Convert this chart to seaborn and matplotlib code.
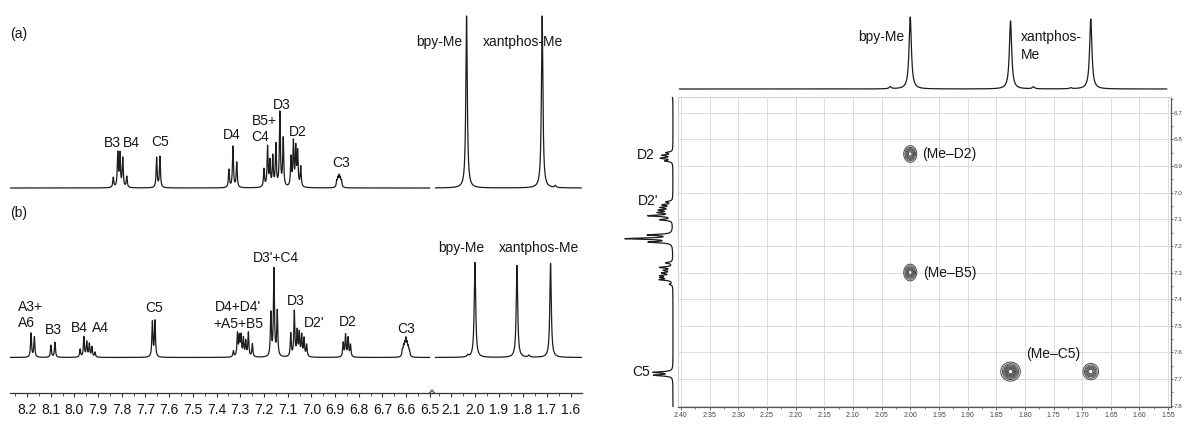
import numpy as np
import pandas as pd
import matplotlib
matplotlib.use("Agg")
import matplotlib.pyplot as plt
from matplotlib.lines import Line2D
from matplotlib.ticker import MultipleLocator, FormatStrFormatter
import seaborn as sns

# ---------------------------------------------------------------------------
# (a) 1H spectrum: aromatic and methyl signals (shift in ppm, intensity)
a_aro_ppm = [7.836, 7.817, 7.808, 7.796, 7.779,
             7.653, 7.639,
             7.348, 7.331, 7.315,
             7.200, 7.185, 7.175, 7.163, 7.150, 7.133, 7.119,
             7.086, 7.076, 7.066, 7.058, 7.045,
             6.893, 6.888, 6.883, 6.878, 6.873]
a_aro_int = [10, 34, 33, 29, 11,
             30, 31,
             18, 41, 25,
             18, 40, 25, 30, 42, 74, 48,
             29, 44, 38, 34, 20,
             6, 8, 10, 8, 6]
a_me_ppm = [2.035, 1.720, 1.665]
a_me_int = [172, 172, 2]

# (b) 1H spectrum
b_aro_ppm = [8.183, 8.169,
             8.099, 8.082,
             7.976, 7.960, 7.948, 7.937, 7.926, 7.913,
             7.671, 7.660,
             7.329, 7.312, 7.304, 7.297, 7.287, 7.277, 7.266, 7.249,
             7.171, 7.158, 7.144,
             7.087, 7.072, 7.060, 7.051, 7.041, 7.031, 7.020,
             6.866, 6.856, 6.845, 6.835,
             6.616, 6.611, 6.606, 6.601, 6.596, 6.591, 6.586]
b_aro_int = [24, 20,
             12, 15,
             8, 20, 15, 13, 10, 5,
             35, 36,
             6, 23, 19, 20, 18, 15, 24, 13,
             43, 87, 45,
             23, 45, 25, 23, 21, 18, 12,
             14, 22, 19, 12,
             6, 9, 11, 15, 11, 8, 5]
b_me_ppm = [2.030, 2.000, 1.825, 1.775, 1.685]
b_me_int = [2, 95, 92, 2, 94]

# NOESY: F2 (methyl) trace, F1 (aromatic) trace and cross peaks
f2_ppm = [2.035, 2.000, 1.825, 1.785, 1.720, 1.685]
f2_int = [2, 72, 68, 2, 1, 70]
f1_shift = 0.015          # referencing offset of the F1 trace
f1_scale = 0.53
cross_f2 = [2.000, 2.000, 1.825, 1.685]
cross_f1 = [6.855, 7.300, 7.672, 7.672]
cross_amp = [1.0, 1.0, 1.3, 1.0]
cross_sx = [0.0055, 0.0055, 0.0078, 0.0066]
cross_sy = [0.0152, 0.0152, 0.0164, 0.0150]
cross_text = ["(Me–D2)", "(Me–B5)", "(Me–C5)"]

row_a_labels = [("B3", 7.841, 45), ("B4", 7.761, 45), ("C5", 7.639, 46),
                ("D4", 7.335, 53), ("B5+", 7.200, 67), ("C4", 7.217, 51),
                ("D3", 7.124, 83), ("D2", 7.057, 56), ("C3", 6.875, 25)]
row_b_labels = [("B3", 8.090, 27.5), ("B4", 7.981, 29.5), ("A4", 7.892, 29.5),
                ("C5", 7.664, 49.5), ("D4+D4'", 7.310, 50.5), ("+A5+B5", 7.310, 33.5),
                ("D3'+C4", 7.151, 99.5), ("D3", 7.065, 56.5), ("D2'", 6.989, 34.5),
                ("D2", 6.846, 35.5), ("C3", 6.601, 28.5)]

# ---------------------------------------------------------------------------
sns.set_theme(style="white")
plt.rcParams["font.family"] = ["Liberation Sans", "DejaVu Sans"]

INK = "#1d1d1d"
TXT = "#161616"
W, H, DPI = 1184, 424, 100
fig = plt.figure(figsize=(W / DPI, H / DPI), dpi=DPI)
fig.patch.set_facecolor("white")


def panel(x0, y0, x1, y1):
    ax = fig.add_axes([x0 / W, 1 - y1 / H, (x1 - x0) / W, (y1 - y0) / H])
    ax.set_facecolor("none")
    return ax


def lorentz(lo, hi, ppm, inten, hwhm, step=0.0002):
    grid = np.arange(hi, lo, -step)
    c = np.asarray(ppm, float)[:, None]
    h = np.asarray(inten, float)[:, None]
    y = (h / (1 + ((grid[None, :] - c) / hwhm) ** 2)).sum(0)
    return pd.DataFrame({"ppm": grid, "intensity": y})


LINE = dict(color=INK, linewidth=0.9, estimator=None, sort=False, legend=False)

ARO_LIM = (8.2717, 6.4911)
ME_LIM = (2.179, 1.554)


def draw_row(y0, y1, base, aro_p, aro_i, me_p, me_i):
    ylim = (-(y1 - base), base - y0)
    ax1 = panel(10, y0, 432, y1)
    sns.lineplot(data=lorentz(6.50, 8.272, aro_p, aro_i, 0.0025),
                 x="ppm", y="intensity", ax=ax1, **LINE)
    ax1.set_xlim(*ARO_LIM)
    ax1.set_ylim(*ylim)
    ax1.set_axis_off()
    ax2 = panel(432, y0, 582, y1)
    sns.lineplot(data=lorentz(1.556, 2.165, me_p, me_i, 0.0036),
                 x="ppm", y="intensity", ax=ax2, **LINE)
    ax2.set_xlim(*ME_LIM)
    ax2.set_ylim(*ylim)
    ax2.set_axis_off()
    return ax1, ax2


# (a)
ax_a1, ax_a2 = draw_row(10, 196, 188, a_aro_ppm, a_aro_int, a_me_ppm, a_me_int)
for t, x, y in row_a_labels:
    ax_a1.text(x, y, t, ha="center", va="center", fontsize=10, color=TXT)
ax_a1.text(8.2717, 154, "(a)", ha="left", va="center", fontsize=10, color=TXT)
ax_a2.text(2.054, 146, "bpy-Me", ha="right", va="center", fontsize=10, color=TXT)
ax_a2.text(1.800, 146, "xantphos-Me", ha="center", va="center", fontsize=10, color=TXT)

# (b)
ax_b1, ax_b2 = draw_row(180, 366, 357.5, b_aro_ppm, b_aro_int, b_me_ppm, b_me_int)
for t, x, y in row_b_labels:
    ax_b1.text(x, y, t, ha="center", va="center", fontsize=10, color=TXT)
ax_b1.text(8.238, 50.5, "A3+", ha="left", va="center", fontsize=10, color=TXT)
ax_b1.text(8.238, 34.5, "A6", ha="left", va="center", fontsize=10, color=TXT)
ax_b1.text(8.2717, 144.5, "(b)", ha="left", va="center", fontsize=10, color=TXT)
ax_b2.text(2.058, 109.5, "bpy-Me", ha="center", va="center", fontsize=10, color=TXT)
ax_b2.text(1.735, 109.5, "xantphos-Me", ha="center", va="center", fontsize=10, color=TXT)

# shared ppm scale with a break between the two regions
for (x0, x1, lim) in [(10, 432, ARO_LIM), (432, 582, ME_LIM)]:
    ax = panel(x0, 373, x1, 393)
    ax.set_xlim(*lim)
    ax.set_yticks([])
    for s in ("top", "left", "right"):
        ax.spines[s].set_visible(False)
    ax.spines["bottom"].set_color("#333333")
    ax.spines["bottom"].set_linewidth(0.9)
    ax.xaxis.set_major_locator(MultipleLocator(0.1))
    ax.xaxis.set_minor_locator(MultipleLocator(0.05))
    ax.xaxis.set_major_formatter(FormatStrFormatter("%.1f"))
    ax.tick_params(axis="x", which="major", bottom=True, length=3, width=0.8,
                   color="#333333", labelsize=10, labelcolor=TXT, pad=4)
    ax.tick_params(axis="x", which="minor", bottom=True, length=2, width=0.6,
                   color="#333333")
fig.add_artist(Line2D([429.5 / W, 432 / W, 434.5 / W],
                      [1 - 393 / H, 1 - 390 / H, 1 - 393 / H],
                      color="#333333", linewidth=0.8))

# ---------------------------------------------------------------------------
# NOESY panel
X2D = (2.4052, 1.545)
Y2D = (7.805, 6.641)

ax_top = panel(678, 8, 1171, 95)
sns.lineplot(data=lorentz(1.552, 2.403, f2_ppm, f2_int, 0.0024),
             x="ppm", y="intensity", ax=ax_top, **LINE)
ax_top.set_xlim(*X2D)
ax_top.set_ylim(-6, 81)
ax_top.set_axis_off()
ax_top.text(2.051, 52, "bpy-Me", ha="center", va="center", fontsize=10, color=TXT)
ax_top.text(1.807, 52, "xantphos-", ha="left", va="center", fontsize=10, color=TXT)
ax_top.text(1.807, 34, "Me", ha="left", va="center", fontsize=10, color=TXT)

ax2d = panel(678, 97, 1171, 407)
gx = np.linspace(X2D[1], X2D[0], 700)
gy = np.linspace(Y2D[1], Y2D[0], 700)
GX, GY = np.meshgrid(gx, gy)
Z = np.zeros_like(GX)
for x0, y0, a, sx, sy in zip(cross_f2, cross_f1, cross_amp, cross_sx, cross_sy):
    Z += a * np.exp(-((GX - x0) ** 2 / (2 * sx ** 2) + (GY - y0) ** 2 / (2 * sy ** 2)))
ax2d.contour(GX, GY, Z, levels=[0.12, 0.25, 0.4, 0.55, 0.7, 0.85, 1.0, 1.15],
             colors="#4a4a4a", linewidths=0.7)
ax2d.set_xlim(*X2D)
ax2d.set_ylim(*Y2D)
ax2d.xaxis.set_major_locator(MultipleLocator(0.05))
ax2d.xaxis.set_minor_locator(MultipleLocator(0.025))
ax2d.xaxis.set_major_formatter(FormatStrFormatter("%.2f"))
ax2d.yaxis.set_major_locator(MultipleLocator(0.1))
ax2d.yaxis.set_minor_locator(MultipleLocator(0.05))
ax2d.yaxis.set_major_formatter(FormatStrFormatter("%.1f"))
ax2d.yaxis.tick_right()
ax2d.grid(True, which="major", color="#dcdcdc", linewidth=0.7)
ax2d.set_axisbelow(True)
for s in ("top", "left"):
    ax2d.spines[s].set_color("#d2d2d2")
    ax2d.spines[s].set_linewidth(0.8)
for s in ("bottom", "right"):
    ax2d.spines[s].set_color("#555555")
    ax2d.spines[s].set_linewidth(0.9)
ax2d.tick_params(which="major", length=2.0, width=0.6, color="#555555",
                 labelsize=5, labelcolor="#444444", pad=1.5)
ax2d.tick_params(which="minor", length=1.2, width=0.5, color="#555555")
ax2d.tick_params(axis="y", which="major", length=1.5, pad=0.4, labelsize=4.6)
ax2d.tick_params(axis="x", which="both", bottom=True, top=False)
ax2d.tick_params(axis="y", which="both", right=True, left=False)
ax2d.text(1.9795, cross_f1[0], cross_text[0], ha="left", va="center",
          fontsize=10, color=TXT)
ax2d.text(1.978, cross_f1[1], cross_text[1], ha="left", va="center",
          fontsize=10, color=TXT)
ax2d.text(1.751, 7.605, cross_text[2], ha="center", va="center",
          fontsize=10, color=TXT)

# F1 trace drawn sideways along the aromatic axis
ax_f1 = panel(612, 97, 676, 407)
f1 = lorentz(Y2D[1], Y2D[0], np.asarray(b_aro_ppm) + f1_shift,
             np.asarray(b_aro_int) * f1_scale, 0.0028)
sns.lineplot(data=f1, x="intensity", y="ppm", orient="y", ax=ax_f1, **LINE)
ax_f1.set_xlim(61, -3)
ax_f1.set_ylim(*Y2D)
ax_f1.set_axis_off()
ax_f1.text(18, 6.858, "D2", ha="right", va="center", fontsize=10, color=TXT)
ax_f1.text(15, 7.030, "D2'", ha="right", va="center", fontsize=10, color=TXT)
ax_f1.text(23, 7.673, "C5", ha="right", va="center", fontsize=10, color=TXT)

fig.savefig("out.png", dpi=DPI, facecolor="white")
